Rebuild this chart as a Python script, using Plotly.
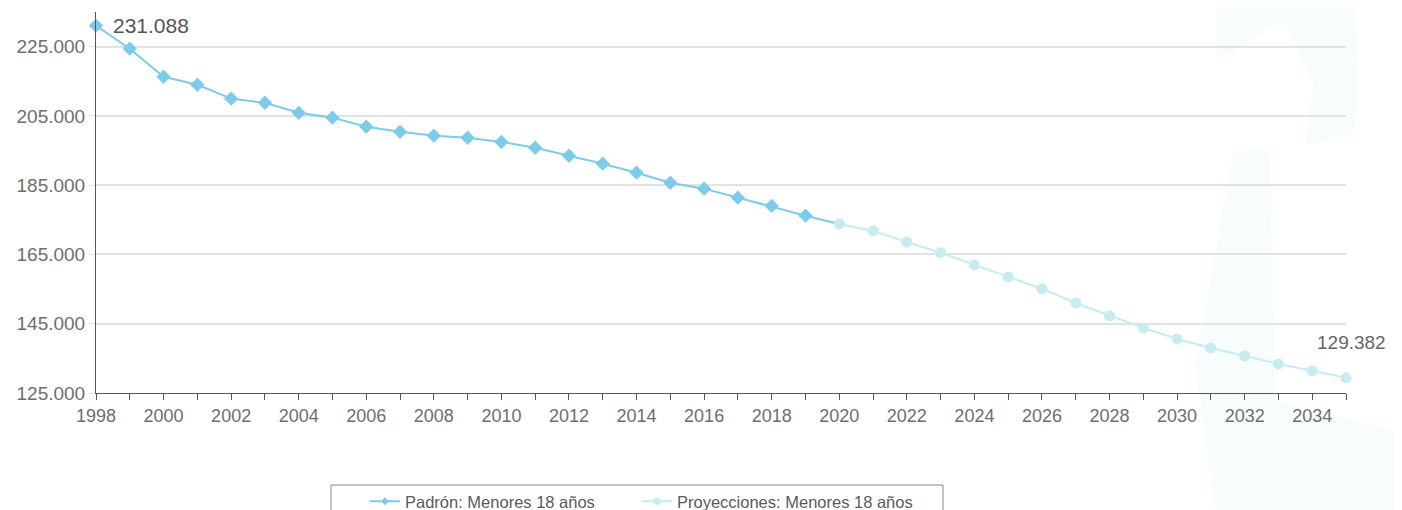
import plotly.graph_objects as go

padron_years = list(range(1998, 2020))
padron_values = [231088, 224400, 216300, 214000, 210000, 208800, 205900, 204500,
                 201900, 200400, 199300, 198700, 197500, 195800, 193500, 191200,
                 188600, 185700, 184000, 181400, 179000, 176200]

proy_years = list(range(2020, 2036))
proy_values = [173800, 171800, 168600, 165500, 162000, 158500, 155100, 151000,
               147300, 143800, 140600, 138000, 135700, 133400, 131400, 129382]

y_ticks = [125000, 145000, 165000, 185000, 205000, 225000]
x_ticks = list(range(1998, 2036, 2))

padron_name = "Padrón: Menores 18 años"
proy_name = "Proyecciones: Menores 18 años"

c_padron = "#7ccbeb"
c_proy = "#c6ecef"
FONT = "Liberation Sans, Arial, sans-serif"

# page has an 8px body margin: figure occupies window px 8..1402 x 8..510
W, H = 1394, 502
ML, MR, MT, MB = 88, 56, 4, 117
PLOT_W = W - ML - MR
PLOT_H = H - MT - MB


def px(xw):
    return (xw - 8 - ML) / PLOT_W


def py(yw):
    return (H - MB - (yw - 8)) / PLOT_H


fig = go.Figure()

# connecting segment (last padrón point to first projection) in padrón color
fig.add_trace(go.Scatter(
    x=[padron_years[-1], proy_years[0]], y=[padron_values[-1], proy_values[0]],
    mode="lines", line=dict(color=c_padron, width=2), showlegend=False,
    hoverinfo="skip", cliponaxis=False))

fig.add_trace(go.Scatter(
    x=padron_years, y=padron_values, name=padron_name, mode="lines+markers",
    line=dict(color=c_padron, width=2),
    marker=dict(symbol="diamond", size=11, color=c_padron),
    cliponaxis=False, showlegend=False))

fig.add_trace(go.Scatter(
    x=proy_years, y=proy_values, name=proy_name, mode="lines+markers",
    line=dict(color=c_proy, width=2),
    marker=dict(symbol="circle", size=11, color=c_proy),
    cliponaxis=False, showlegend=False))

# legend entries (small symbols like the original), one legend box each
fig.add_trace(go.Scatter(
    x=[None], y=[None], name=padron_name, mode="lines+markers",
    line=dict(color=c_padron, width=2),
    marker=dict(symbol="diamond", size=6, color=c_padron), legend="legend"))
fig.add_trace(go.Scatter(
    x=[None], y=[None], name=proy_name, mode="lines+markers",
    line=dict(color=c_proy, width=2),
    marker=dict(symbol="circle", size=7, color=c_proy), legend="legend2"))

fig.add_annotation(x=padron_years[0], y=padron_values[0],
                   text=f"{padron_values[0]:,}".replace(",", "."),
                   showarrow=False, xanchor="left", yanchor="middle", xshift=15,
                   font=dict(family=FONT, size=21, color="#555555"))
fig.add_annotation(x=proy_years[-1], y=proy_values[-1],
                   text=f"{proy_values[-1]:,}".replace(",", "."),
                   showarrow=False, xanchor="center", yanchor="middle", xshift=5, yshift=35,
                   font=dict(family=FONT, size=19, color="#666666"))

shapes = []
# faint watermark in the background (right side)
wm1 = [(1217, 0), (1358, 0), (1355, 133), (1305, 145), (1313, 83), (1283, 20), (1217, 60)]
wm2 = [(1233, 153), (1270, 148), (1275, 400), (1390, 430), (1402, 440), (1402, 510),
       (1215, 510), (1195, 365)]
for poly in (wm1, wm2):
    path = "M " + " L ".join(f"{px(a):.4f},{py(b):.4f}" for a, b in poly) + " Z"
    shapes.append(dict(type="path", xref="paper", yref="paper", path=path,
                       fillcolor="#f7fdfd", line=dict(width=0), layer="below"))
# legend frame (extends beyond the bottom edge, as in the original)
shapes.append(dict(type="rect", xref="paper", yref="paper",
                   x0=px(331), x1=px(943), y0=py(540), y1=py(485),
                   line=dict(color="#8a8a8a", width=1), fillcolor="rgba(0,0,0,0)"))

legend_common = dict(orientation="h", xanchor="left",
                     yref="container", y=(510 - 484) / H, yanchor="top",
                     borderwidth=0, bgcolor="rgba(0,0,0,0)",
                     font=dict(family=FONT, size=16.5, color="#5a5a5a"))

fig.update_layout(
    width=W, height=H,
    margin=dict(l=ML, r=MR, t=MT, b=MB),
    paper_bgcolor="white", plot_bgcolor="rgba(0,0,0,0)",
    separators=",.",
    font=dict(family=FONT, size=18, color="#6e6e6e"),
    showlegend=True,
    shapes=shapes,
    legend=dict(x=px(365), **legend_common),
    legend2=dict(x=px(637), **legend_common),
    xaxis=dict(range=[1998, 2035], tickmode="array", tickvals=x_ticks,
               ticktext=[str(v) for v in x_ticks],
               showgrid=False, zeroline=False,
               showline=True, linecolor="#555555", linewidth=1,
               ticks="outside", ticklen=6, tickcolor="#555555",
               minor=dict(tickmode="linear", tick0=1998, dtick=1, ticks="outside",
                          ticklen=6, tickcolor="#555555", showgrid=False),
               tickfont=dict(size=18, color="#6e6e6e")),
    yaxis=dict(range=[125000, 235000], tickmode="array", tickvals=y_ticks,
               tickformat=",d",
               showgrid=True, gridcolor="#e2e2e2", gridwidth=1.5, zeroline=False,
               showline=True, linecolor="#555555", linewidth=1,
               ticks="outside", ticklen=6, tickcolor="#e2e2e2",
               tickfont=dict(size=19, color="#6e6e6e")),
)

fig.write_html("out.html")
